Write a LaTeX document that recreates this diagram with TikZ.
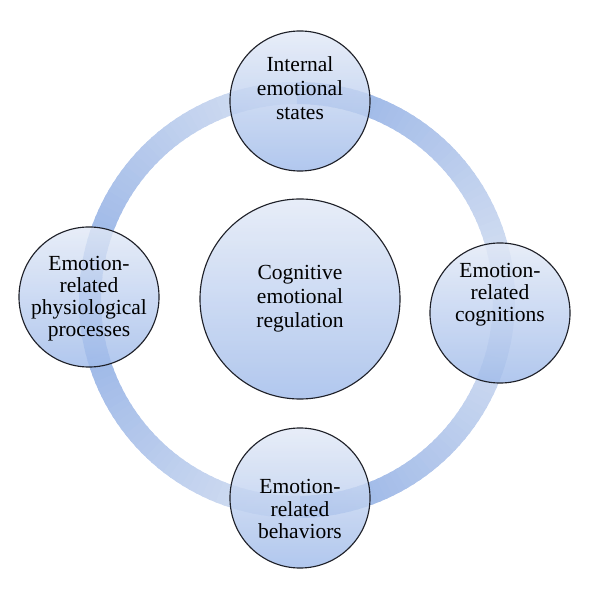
\documentclass[tikz,border=0pt]{standalone}
\usepackage{fontspec}
\setmainfont{Liberation Serif}
\definecolor{ringdark}{RGB}{146,176,229}
\definecolor{ringlight}{RGB}{218,227,243}
\definecolor{circtop}{RGB}{226,233,246}
\definecolor{circbot}{RGB}{160,187,234}
\definecolor{edgecol}{RGB}{30,32,40}
\tikzset{
  bubble/.style={circle, draw=edgecol, line width=0.8pt, inner sep=0pt,
    top color=circtop, bottom color=circbot, fill opacity=0.82, draw opacity=1},
  outer/.style={bubble, minimum size=3.5cm},
  inner/.style={bubble, minimum size=5cm},
  lbl/.style={align=center, text=black, inner sep=0pt, font=\fontsize{15.3}{15.7}\selectfont},
  lbltall/.style={lbl, font=\fontsize{15.3}{17.2}\selectfont},
  ringseg/.style={line width=0.55cm}
}
\newcommand\ringarc[2]{%
  \foreach \i in {0,...,44}{%
    \pgfmathtruncatemacro\p{100*(1-\i/44)}%
    \pgfmathsetmacro\a{#1+(#2-#1)*\i/45}%
    \pgfmathsetmacro\b{#1+(#2-#1)*(\i+1.4)/45}%
    \colorlet{segc}{ringdark!\p!ringlight}%
    \draw[ringseg, segc] ([shift={(\a:207)}]o) arc (\a:\b:207);
  }}
\begin{document}
\begin{tikzpicture}[x=0.025cm,y=0.025cm]
\useasboundingbox (0,0) rectangle (600,600);
\coordinate (o) at (297,300);
% ring, four quarters shaded along the arc
\ringarc{180}{90}
\ringarc{90}{0}
\ringarc{270}{360}
\ringarc{180}{270}
% circles
\node[inner] (c) at (300,301) {};
\node[outer] (t) at (300,499) {};
\node[outer] (r) at (500,287) {};
\node[outer] (b) at (300,102) {};
\node[outer] (l) at (89,303) {};
% labels
\node[lbltall] (ct) at (300,301) {Cognitive\\emotional\\regulation};
\node[lbltall] (tt) at (300,512) {Internal\\emotional\\states};
\node[lbl] (rt) at (500,305) {Emotion-\\related\\cognitions};
\node[lbl] (bt) at (300,91) {Emotion-\\related\\behaviors};
\node[lbl] (lt) at (89,301) {Emotion-\\related\\physiological\\processes};
\end{tikzpicture}
\end{document}
